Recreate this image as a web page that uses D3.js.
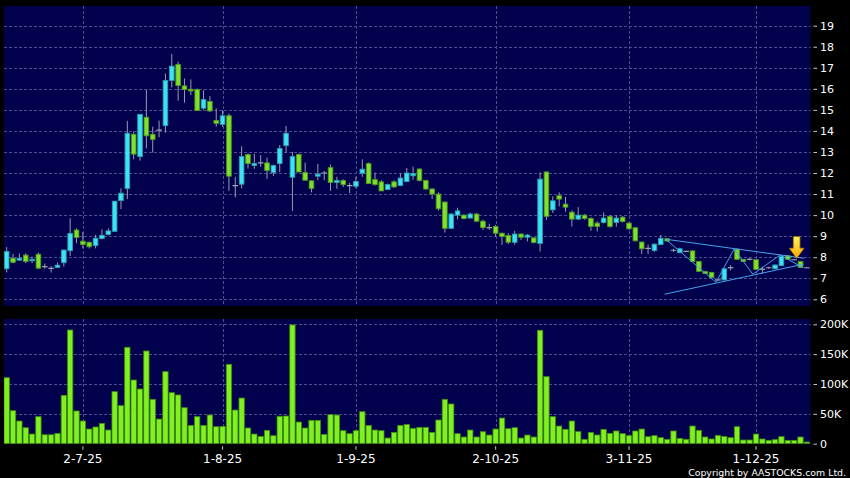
<!DOCTYPE html>
<html>
<head>
<meta charset="utf-8">
<script src="https://cdn.jsdelivr.net/npm/d3@7"></script>
<style>
html, body { margin: 0; padding: 0; background: #000; }
svg { display: block; font-family: "DejaVu Sans", sans-serif; }
</style>
</head>
<body>
<svg id="chart" width="850" height="478"></svg>
<script>
// daily OHLC, one entry per trading day
const open = [7.45,7.95,7.86,8.10,7.83,8.14,7.55,7.47,7.51,7.74,8.31,9.29,8.76,8.71,8.55,8.89,9.08,9.23,10.69,11.27,
  13.84,12.78,14.65,13.84,14.04,14.25,16.40,17.16,16.14,15.98,15.97,15.08,15.40,14.50,14.31,14.72,11.40,11.47,12.88,12.36,
  12.48,12.48,12.02,12.45,13.30,11.80,12.88,12.02,11.63,11.85,12.00,12.26,11.55,11.64,11.40,11.37,11.99,12.45,11.69,11.58,
  11.22,11.58,11.41,11.60,11.87,12.19,11.65,11.24,11.00,10.62,9.37,10.00,10.00,9.86,10.05,9.71,9.41,9.46,9.14,9.03,
  8.71,9.10,8.95,8.92,8.65,12.05,10.25,10.92,10.52,10.14,9.81,10.00,9.84,9.62,9.65,9.94,9.65,9.90,9.62,9.40,
  8.72,8.42,8.32,8.60,8.88,8.33,8.22,8.28,8.30,7.80,7.32,7.28,6.92,6.92,7.50,8.38,7.90,7.90,7.88,7.43,
  7.50,7.45,7.60,8.07,7.88,7.80,7.50]
const high = [8.48,8.15,8.18,8.19,8.03,8.22,7.70,7.58,7.75,8.35,9.85,9.37,9.20,8.74,9.06,9.33,9.37,10.68,11.27,14.48,
  13.97,14.80,15.95,14.20,14.49,16.73,17.65,17.29,16.49,16.45,16.02,15.94,15.65,15.07,14.99,14.83,11.82,13.27,12.93,12.91,
  12.85,12.73,12.40,13.33,14.24,13.00,12.93,12.50,11.66,12.43,12.10,12.40,11.82,11.70,11.53,11.82,12.65,12.50,12.02,11.66,
  11.50,11.66,12.00,12.24,12.30,12.22,11.67,11.29,11.08,10.65,10.10,10.35,10.05,10.12,10.10,9.78,9.59,9.54,9.17,9.14,
  9.25,9.13,9.10,8.94,12.03,12.08,10.89,11.08,10.86,10.22,10.38,10.05,9.90,9.70,10.12,10.00,10.00,9.95,9.65,9.42,
  8.75,8.60,8.65,9.05,8.92,8.40,8.45,8.30,8.32,7.82,7.35,7.30,6.95,7.47,7.62,8.42,7.92,7.95,7.90,7.55,
  7.55,7.65,8.10,8.10,7.92,7.82,7.52]
const low = [7.28,7.70,7.84,7.72,7.72,7.43,7.45,7.27,7.50,7.55,8.06,8.66,8.42,8.42,8.42,8.84,9.03,9.20,10.29,10.76,
  12.65,12.59,13.17,12.97,13.70,13.92,16.07,15.43,15.34,15.70,14.97,14.99,14.90,14.20,14.20,11.15,10.84,11.27,12.21,12.20,
  12.30,11.72,11.86,12.05,12.97,10.20,12.05,11.63,11.08,11.66,11.66,11.15,11.25,11.34,11.05,11.27,11.82,11.50,11.40,11.15,
  11.20,11.30,11.37,11.56,11.68,11.60,11.20,10.76,10.22,9.17,9.37,9.80,9.80,9.84,9.70,9.30,9.30,8.98,8.59,8.63,
  8.59,8.82,8.75,8.65,8.27,9.78,10.10,10.41,10.16,9.46,9.78,9.78,9.25,9.22,9.60,9.40,9.45,9.65,9.30,8.75,
  8.15,8.15,8.25,8.58,8.74,8.25,8.18,8.25,7.78,7.30,7.20,7.00,6.88,6.90,7.38,7.88,7.78,7.85,7.40,7.22,
  7.45,7.43,7.58,7.88,7.85,7.50,7.48]
const close = [8.27,7.76,7.95,7.80,7.90,7.48,7.55,7.47,7.62,8.34,9.13,8.94,8.60,8.50,8.90,9.04,9.25,10.66,11.04,13.89,
  12.90,14.79,13.77,13.60,14.04,16.40,17.08,16.16,15.97,15.90,14.97,15.49,14.95,14.36,14.72,11.85,11.40,12.78,12.45,12.45,
  12.48,12.12,12.36,13.17,13.89,12.78,12.05,11.66,11.27,11.95,12.00,11.55,11.64,11.45,11.40,11.60,12.18,11.50,11.45,11.15,
  11.45,11.34,11.76,12.00,11.97,11.65,11.24,11.00,10.30,9.37,10.05,10.20,9.84,10.05,9.71,9.41,9.41,9.14,8.98,8.71,
  9.10,8.95,9.05,8.70,11.71,9.94,10.68,10.76,10.38,9.81,10.00,9.84,9.46,9.46,9.86,9.46,9.86,9.70,9.35,8.78,
  8.40,8.42,8.62,8.90,8.77,8.33,8.40,8.28,7.80,7.33,7.22,7.03,6.92,7.45,7.50,7.90,7.80,7.90,7.42,7.43,
  7.50,7.63,8.03,7.90,7.88,7.52,7.50]
// shares traded, thousands
const volumeK = [110.6,55.3,38.0,26.8,16.2,45.3,15.0,15.0,17.3,81.0,190.5,54.8,38.0,24.6,28.0,34.0,22.9,87.2,63.7,161.5,
  106.7,91.6,155.3,74.3,41.3,120.7,85.5,81.6,60.3,30.7,45.3,30.7,48.0,28.5,29.0,133.0,56.4,76.5,26.3,16.2,
  12.3,22.3,13.4,46.0,46.4,198.9,36.3,26.3,39.1,39.1,15.6,48.6,48.0,21.8,16.8,21.8,53.6,30.7,22.9,21.8,
  9.5,19.0,30.7,32.4,25.7,27.4,27.4,19.0,39.7,74.3,66.5,16.8,11.2,22.9,11.2,20.1,14.5,24.6,43.0,25.1,
  26.8,9.5,14.5,11.2,190.0,112.3,45.3,29.6,24.1,38.0,20.2,7.3,19.0,14.6,24.1,17.4,21.3,16.8,13.5,21.3,
  24.6,11.8,13.5,10.1,7.3,21.3,9.0,7.3,29.6,22.4,11.2,7.9,14.0,12.3,10.1,28.5,6.2,6.2,16.2,7.9,
  5.6,6.8,11.8,5.6,5.6,11.2,2.8]

const firstDay = new Date(2025, 5, 13)
const holidays = ['2025-07-01', '2025-10-01', '2025-10-07']
const priceTicks = d3.range(6, 20)
const volumeTicks = [0, 50000, 100000, 150000, 200000]

// triangle / zigzag pattern drawn over the last weeks (trading-day index, price)
const zigzagIdx = [103.9, 111.7, 114.55, 117.5, 121.8, 125.45]
const zigzagPrice = [8.82, 6.81, 8.39, 7.19, 8.11, 7.49]
const upperIdx = [103.9, 125.6], upperPrice = [8.85, 7.95]
const lowerIdx = [103.6, 125.5], lowerPrice = [6.24, 7.67]
const signalIdx = 124.4, signalPrice = 7.95

const navy = '#00004c'
const gridCol = '#4e4e8e'

// build the trading calendar
const keyFmt = d3.timeFormat('%Y-%m-%d')
let dates = []
for (let d = firstDay; dates.length < close.length; d = d3.timeDay.offset(d, 1)) {
    if (d.getDay() === 0 || d.getDay() === 6 || holidays.includes(keyFmt(d))) continue
    dates.push(d)
}
let keys = dates.map(keyFmt)
let tickKeys = keys.filter((k, i) => i > 0 && dates[i].getMonth() !== dates[i - 1].getMonth())
let tickLabel = k => {
    let d = dates[keys.indexOf(k)]
    return `${d.getDate()}-${d.getMonth() + 1}-${String(d.getFullYear()).slice(2)}`
}

let candles = keys.map((k, i) => ({key: k, o: open[i], h: high[i], l: low[i], c: close[i], v: volumeK[i] * 1000}))

const panelL = 4, panelR = 810.5
const mainTop = 6, mainBot = 306
const volTop = 319, volBot = 443.7

let x = d3.scaleBand().domain(keys).range([3.5, 810]).padding(0)
let bw = x.bandwidth()
let xi = d3.scaleLinear().domain([0, keys.length - 1])
    .range([x(keys[0]) + bw / 2, x(keys[keys.length - 1]) + bw / 2])
let y = d3.scaleLinear().domain([6, 19]).range([299.3, 25.7])
let yv = d3.scaleLinear().domain([0, 200000]).range([volBot, 324.3])

let svg = d3.select('#chart')
let defs = svg.append('defs')
defs.append('clipPath').attr('id', 'clipMain').append('rect')
    .attr('x', panelL).attr('y', mainTop).attr('width', panelR - panelL).attr('height', mainBot - mainTop)
defs.append('clipPath').attr('id', 'clipVol').append('rect')
    .attr('x', panelL).attr('y', volTop).attr('width', panelR - panelL).attr('height', volBot - volTop)
let grad = defs.append('linearGradient').attr('id', 'arrowGrad')
    .attr('x1', 0).attr('y1', 0).attr('x2', 0).attr('y2', 1)
grad.append('stop').attr('offset', '0%').attr('stop-color', '#fff45c')
grad.append('stop').attr('offset', '100%').attr('stop-color', '#ffa600')

svg.append('rect').attr('width', 850).attr('height', 478).attr('fill', '#000')
svg.append('rect').attr('x', panelL).attr('y', mainTop).attr('width', panelR - panelL)
    .attr('height', mainBot - mainTop).attr('fill', navy)
svg.append('rect').attr('x', panelL).attr('y', volTop).attr('width', panelR - panelL)
    .attr('height', volBot - volTop).attr('fill', navy)

// grid
let grid = svg.append('g').attr('stroke', gridCol).attr('stroke-dasharray', '3,2').attr('stroke-width', 1)
grid.selectAll('line.hp').data(priceTicks).join('line').attr('class', 'hp')
    .attr('x1', panelL).attr('x2', panelR)
    .attr('y1', d => Math.round(y(d)) + 0.5).attr('y2', d => Math.round(y(d)) + 0.5)
grid.selectAll('line.hv').data(volumeTicks.filter(v => v > 0)).join('line').attr('class', 'hv')
    .attr('x1', panelL).attr('x2', panelR)
    .attr('y1', d => Math.round(yv(d)) + 0.5).attr('y2', d => Math.round(yv(d)) + 0.5)
grid.selectAll('line.vm').data(tickKeys).join('line').attr('class', 'vm')
    .attr('x1', d => Math.round(x(d) + bw / 2) + 0.5).attr('x2', d => Math.round(x(d) + bw / 2) + 0.5)
    .attr('y1', mainTop).attr('y2', mainBot)
grid.selectAll('line.vv').data(tickKeys).join('line').attr('class', 'vv')
    .attr('x1', d => Math.round(x(d) + bw / 2) + 0.5).attr('x2', d => Math.round(x(d) + bw / 2) + 0.5)
    .attr('y1', volTop).attr('y2', volBot)

// candlesticks
let main = svg.append('g').attr('clip-path', 'url(#clipMain)')
let cg = main.selectAll('g.candle').data(candles).join('g').attr('class', 'candle')
    .attr('transform', d => `translate(${x(d.key) + bw / 2},0)`)
cg.append('line')
    .attr('y1', d => y(d.h)).attr('y2', d => y(d.l))
    .attr('stroke', '#9a9aae').attr('stroke-width', 1)
let bodyW = 4.6
cg.filter(d => d.o !== d.c).append('rect')
    .attr('x', -bodyW / 2).attr('width', bodyW)
    .attr('y', d => y(Math.max(d.o, d.c)))
    .attr('height', d => Math.max(1, Math.abs(y(d.o) - y(d.c))))
    .attr('fill', d => d.c > d.o ? '#3fe2f4' : '#7fe12c')
    .attr('stroke', d => d.c > d.o ? '#2b9cb0' : '#4f9a1e')
    .attr('stroke-width', 0.9)
cg.filter(d => d.o === d.c).append('line')
    .attr('x1', -bodyW / 2 - 0.5).attr('x2', bodyW / 2 + 0.5)
    .attr('y1', d => y(d.c)).attr('y2', d => y(d.c))
    .attr('stroke', '#a4a4b4').attr('stroke-width', 1.2)

// pattern overlay
let line = d3.line()
let pattern = main.append('g').attr('fill', 'none').attr('stroke', '#45a2ea').attr('stroke-width', 1)
pattern.append('path').attr('d', line(zigzagIdx.map((v, i) => [xi(v), y(zigzagPrice[i])])))
pattern.append('path').attr('d', line(upperIdx.map((v, i) => [xi(v), y(upperPrice[i])])))
pattern.append('path').attr('d', line(lowerIdx.map((v, i) => [xi(v), y(lowerPrice[i])])))

// signal arrow
let ax = xi(signalIdx), ay = y(signalPrice)
main.append('path')
    .attr('d', `M${ax - 3.3},${ay - 21.6} h6.6 v11.6 h4 L${ax},${ay} L${ax - 7.3},${ay - 10} h4 Z`)
    .attr('fill', 'url(#arrowGrad)').attr('stroke', '#b77d00').attr('stroke-width', 0.8)

// volume
svg.append('g').attr('clip-path', 'url(#clipVol)')
    .selectAll('rect').data(candles).join('rect')
    .attr('x', d => x(d.key) + 0.5).attr('width', bw - 1)
    .attr('y', d => yv(d.v)).attr('height', d => yv(0) - yv(d.v))
    .attr('fill', '#80f020').attr('stroke', '#3e8c0e').attr('stroke-width', 0.8)

// axes
function styleAxis(g, size) {
    g.select('.domain').remove()
    g.selectAll('.tick line').attr('stroke', '#c8c8c8')
    g.selectAll('.tick text').attr('fill', '#fff').attr('font-size', size)
        .attr('font-family', '"DejaVu Sans", sans-serif')
}
svg.append('g').attr('transform', 'translate(813.5,0)')
    .call(d3.axisRight(y).tickValues(priceTicks).tickSize(3.5).tickPadding(3).tickFormat(d3.format('d')))
    .call(g => styleAxis(g, 11))
svg.append('g').attr('transform', 'translate(813.5,0)')
    .call(d3.axisRight(yv).tickValues(volumeTicks).tickSize(3.5).tickPadding(3)
        .tickFormat(v => v === 0 ? '0' : `${v / 1000}K`))
    .call(g => styleAxis(g, 11))
svg.append('g').attr('transform', `translate(0,${volBot + 2.5})`)
    .call(d3.axisBottom(x).tickValues(tickKeys).tickSize(3.5).tickPadding(4.5).tickFormat(tickLabel))
    .call(g => styleAxis(g, 12))

svg.append('text').attr('x', 846).attr('y', 475.5).attr('text-anchor', 'end')
    .attr('fill', '#fff').attr('font-size', 9.4)
    .text('Copyright by AASTOCKS.com Ltd.')
</script>
</body>
</html>
